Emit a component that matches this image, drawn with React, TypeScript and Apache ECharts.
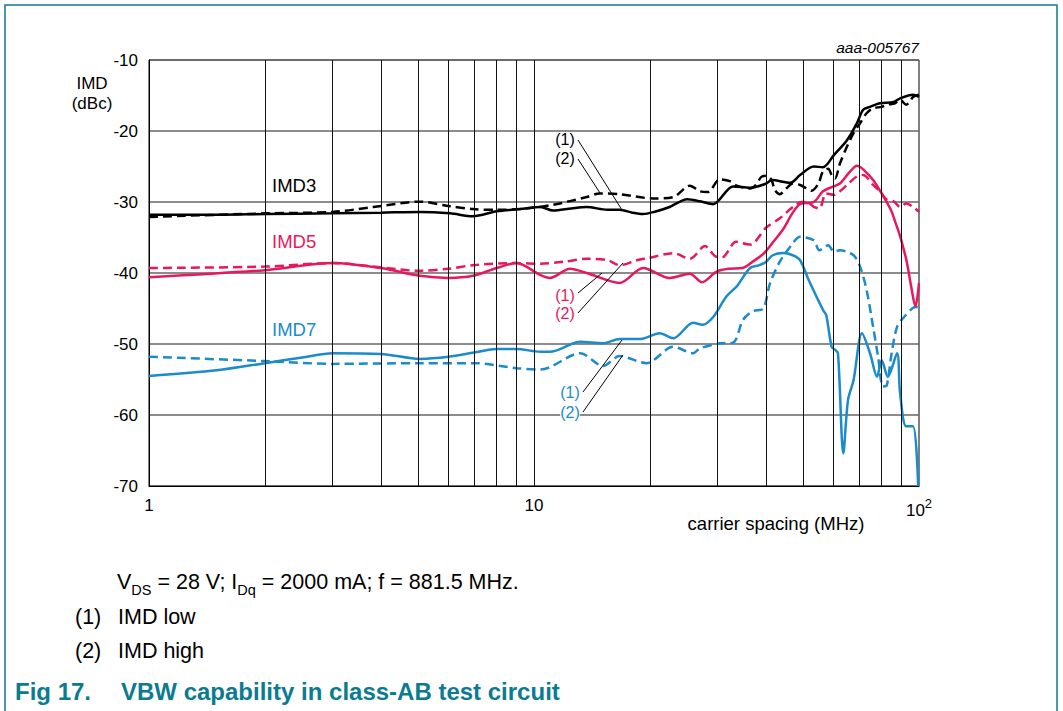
import React, { useEffect, useRef } from "react";
import * as echarts from "echarts";

// ---- data (carrier spacing MHz, IMD dBc) ----
const imd3Low: [number, number][] = [
  [1.0, -31.8], [1.5, -31.8], [2.0, -31.7], [3.0, -31.6], [4.0, -31.5], [5.06, -31.4], [6.05, -31.6],
  [6.94, -32.0], [8.0, -31.3], [9.2, -31.0], [10.4, -30.7], [11.2, -31.2], [12.5, -30.9], [13.7, -30.7],
  [15.5, -31.1], [16.7, -31.1], [18.0, -31.5], [19.2, -31.7], [20.5, -31.4], [22.5, -30.7], [25.0, -29.6],
  [27.0, -29.9], [29.2, -30.3], [32.9, -27.8], [36.4, -28.0], [40.1, -27.4], [41.4, -26.9], [46.3, -27.3],
  [49.1, -26.2], [53.3, -25.0], [56.3, -25.1], [60.1, -23.4], [65.0, -21.3], [69.0, -18.9], [71.6, -17.0],
  [74.6, -16.6], [79.2, -16.1], [85.9, -15.9], [89.3, -15.4], [96.5, -14.9], [100, -15.2],
];
const imd3High: [number, number][] = [
  [1.0, -32.1], [2.02, -31.6], [3.0, -31.4], [3.83, -30.7], [5.06, -29.95], [6.05, -30.6], [6.94, -31.0],
  [8.0, -31.1], [9.2, -31.0], [11.2, -30.4], [13.7, -29.3], [14.8, -28.8], [16.7, -28.9], [20.4, -29.5],
  [23.0, -29.3], [25.4, -27.7], [27.0, -28.5], [28.3, -28.6], [30.4, -26.8], [32.4, -27.1], [33.6, -27.7],
  [36.4, -28.1], [37.7, -27.6], [38.9, -26.5], [40.1, -26.3], [41.4, -26.9], [42.2, -28.3], [43.5, -28.9],
  [45.2, -28.1], [47.0, -27.4], [49.1, -27.6], [51.1, -28.1], [52.6, -28.4], [54.8, -27.4], [56.3, -25.7],
  [58.1, -25.3], [59.3, -26.2], [60.5, -26.7], [62.3, -24.6], [65.0, -22.2], [67.6, -20.3], [70.3, -18.9],
  [73.1, -17.5], [76.0, -16.8], [80.0, -16.6], [82.5, -16.3], [86.6, -16.1], [89.3, -15.6], [92.6, -16.3],
  [94.6, -15.9], [96.5, -15.2], [100, -14.9],
];
const imd5Low: [number, number][] = [
  [1.0, -40.6], [2.0, -39.6], [3.0, -38.6], [4.0, -39.3], [5.06, -40.4], [6.0, -40.7], [6.94, -40.4],
  [8.0, -39.3], [9.0, -38.6], [10.4, -40.3], [11.0, -40.7], [12.4, -39.4], [13.7, -40.0], [16.7, -41.4],
  [19.2, -39.3], [22.5, -40.7], [25.4, -40.1], [27.3, -41.3], [29.8, -39.8], [32.0, -39.4], [34.8, -39.3],
  [37.0, -38.4], [39.6, -37.2], [42.0, -35.5], [44.4, -33.8], [47.0, -31.5], [49.1, -30.3], [53.3, -30.0],
  [56.3, -28.5], [60.0, -27.8], [62.3, -27.4], [66.0, -25.8], [69.0, -24.9], [71.6, -25.4], [76.0, -26.9],
  [80.0, -28.8], [84.5, -31.1], [87.0, -33.0], [89.3, -34.8], [91.0, -36.4], [93.0, -38.5], [95.5, -42.0],
  [97.9, -44.7], [99.0, -43.5], [100, -41.4],
];
const imd5High: [number, number][] = [
  [1.0, -39.3], [2.0, -39.1], [3.0, -38.6], [4.0, -39.2], [5.06, -39.7], [6.0, -39.4], [6.94, -38.9],
  [9.0, -38.6], [10.4, -38.7], [12.0, -38.4], [13.7, -38.0], [15.5, -38.2], [16.7, -38.9], [18.5, -38.2],
  [19.8, -37.9], [23.0, -37.2], [25.4, -38.0], [27.8, -36.2], [29.5, -37.6], [30.8, -37.8], [33.5, -35.6],
  [36.4, -36.0], [40.1, -33.6], [43.5, -32.3], [47.0, -30.7], [49.5, -30.0], [51.1, -30.0], [53.3, -30.7],
  [55.1, -30.9], [57.4, -28.8], [60.1, -29.0], [62.3, -28.5], [65.0, -27.6], [69.0, -26.4], [71.6, -26.2],
  [76.0, -27.6], [79.2, -28.5], [82.5, -29.7], [85.9, -29.9], [89.3, -30.7], [92.6, -30.2], [96.5, -30.7],
  [100, -31.4],
];
const imd7Low: [number, number][] = [
  [1.0, -54.5], [1.5, -53.7], [2.0, -52.7], [2.5, -51.9], [3.0, -51.3], [4.0, -51.4], [5.06, -52.1],
  [6.0, -51.8], [7.0, -51.2], [8.0, -50.7], [9.0, -50.7], [10.4, -51.1], [11.0, -51.1], [13.2, -49.7],
  [15.1, -49.9], [16.7, -49.3], [18.9, -49.3], [21.2, -48.5], [23.0, -49.2], [25.9, -47.0], [27.4, -47.3],
  [29.2, -46.2], [31.6, -43.3], [33.6, -41.9], [36.4, -39.3], [38.5, -38.9], [40.1, -38.4], [41.7, -37.5],
  [44.4, -37.2], [47.0, -37.5], [49.1, -38.2], [51.7, -41.0], [56.3, -45.2], [57.4, -45.9], [59.3, -50.4],
  [60.5, -50.8], [61.6, -51.3], [63.6, -65.4], [65.4, -57.9], [67.6, -55.1], [71.1, -48.5], [74.6, -51.3],
  [77.8, -54.6], [80.0, -52.3], [83.0, -54.6], [87.7, -51.3], [89.3, -56.9], [92.6, -61.6], [96.5, -61.6],
  [99.5, -70],
];
const imd7High: [number, number][] = [
  [1.0, -51.8], [2.0, -52.4], [3.0, -52.8], [5.06, -52.7], [7.0, -52.7], [9.0, -53.4], [10.4, -53.6],
  [13.2, -51.3], [15.1, -53.1], [16.7, -51.7], [19.6, -52.7], [23.0, -50.4], [25.9, -51.3], [27.0, -50.6],
  [30.4, -49.9], [32.9, -49.8], [34.9, -46.6], [37.0, -45.4], [39.4, -45.0], [41.0, -41.5], [43.5, -38.4],
  [46.3, -36.3], [49.1, -34.9], [53.3, -35.4], [55.1, -36.8], [58.1, -36.1], [60.1, -37.0], [62.3, -36.8],
  [67.6, -37.5], [70.3, -39.1], [73.1, -42.4], [76.0, -47.6], [78.3, -51.8], [80.6, -56.0], [82.5, -55.8],
  [84.9, -51.3], [87.7, -47.6], [91.5, -46.2], [97.9, -44.8], [100, -44.8],
];
const minorGridX = [2, 3, 4, 5, 6, 7, 8, 9, 10, 20, 30, 40, 50, 60, 70, 80, 90];
const yMin = -70;
const yMax = -10;
const yStep = 10;

const BLACK = "#000000";
const RED = "#e8185d";
const BLUE = "#1a8bcb";
const TEAL = "#0b7b8f";
const FONT = '"Liberation Sans", Arial, sans-serif';

export default function App() {
  const ref = useRef<HTMLDivElement>(null);
  useEffect(() => {
    if (!ref.current) return;
    const chart = echarts.init(ref.current, undefined, { renderer: "svg" });
    const mk = (name: string, data: [number, number][], color: string, dashed: boolean) => ({
      type: "line",
      name,
      data,
      symbol: "none",
      showSymbol: false,
      smooth: 0.3,
      z: 3,
      lineStyle: { color, width: 2.5, type: dashed ? [9, 5] : "solid" },
    });
    const txt = (x: number, y: number, text: string, color: string, size = 16, align = "left", extra: any = {}) => ({
      type: "text",
      x,
      y,
      silent: true,
      z: 20,
      style: { text, fill: color, font: `${size}px ${FONT}`, textAlign: align, textVerticalAlign: "middle", ...extra },
    });
    const ln = (x1: number, y1: number, x2: number, y2: number) => ({
      type: "line",
      silent: true,
      shape: { x1, y1, x2, y2 },
      style: { stroke: "#000", lineWidth: 1 },
      z: 10,
    });
    chart.setOption({
      animation: false,
      backgroundColor: "#ffffff",
      grid: { left: 149, top: 60, width: 770, height: 426, show: true, borderColor: "#000", borderWidth: 1, backgroundColor: "transparent" },
      xAxis: {
        type: "log",
        logBase: 10,
        min: 1,
        max: 100,
        axisLine: { show: true, lineStyle: { color: "#000", width: 1 } },
        axisTick: { show: false },
        splitLine: { show: false },
        axisLabel: {
          color: "#000",
          fontSize: 17,
          fontFamily: FONT,
          margin: 11,
          formatter: (v: number) => (v >= 100 ? "{b|10}{s|2}" : String(Math.round(v))),
          rich: {
            b: { fontSize: 17, fontFamily: FONT, color: "#000", lineHeight: 22, verticalAlign: "bottom" },
            s: { fontSize: 13, fontFamily: FONT, color: "#000", lineHeight: 13, verticalAlign: "top" },
          },
        },
      },
      yAxis: {
        type: "value",
        min: yMin,
        max: yMax,
        interval: yStep,
        axisLine: { show: true, lineStyle: { color: "#000", width: 1 } },
        axisTick: { show: false },
        splitLine: { show: true, lineStyle: { color: "#666", width: 1.6 } },
        axisLabel: { color: "#000", fontSize: 17, fontFamily: FONT, margin: 11 },
      },
      series: [
        {
          type: "line",
          data: [],
          z: 1,
          silent: true,
          markLine: {
            silent: true,
            symbol: ["none", "none"],
            label: { show: false },
            lineStyle: { type: "solid", color: "#111", width: 1 },
            data: minorGridX.map((v) => ({ xAxis: v })),
          },
        },
        mk("IMD7 (2)", imd7High, BLUE, true),
        mk("IMD7 (1)", imd7Low, BLUE, false),
        mk("IMD5 (2)", imd5High, RED, true),
        mk("IMD5 (1)", imd5Low, RED, false),
        mk("IMD3 (2)", imd3High, BLACK, true),
        mk("IMD3 (1)", imd3Low, BLACK, false),
      ],
      graphic: [
        { type: "rect", silent: true, shape: { x: 5, y: 5, width: 1052, height: 720 }, style: { fill: "none", stroke: TEAL, lineWidth: 1.5 } },
        txt(919, 47, "aaa-005767", "#000", 15.5, "right", { font: `italic 15.5px ${FONT}` }),
        txt(92, 83, "IMD", "#000", 17, "center"),
        txt(92, 103, "(dBc)", "#000", 17, "center"),
        txt(776, 523, "carrier spacing (MHz)", "#000", 18.5, "center"),
        txt(272, 185, "IMD3", BLACK, 18.5),
        txt(272, 241, "IMD5", RED, 18.5),
        txt(272, 329, "IMD7", BLUE, 18.5),
        txt(565, 139, "(1)", BLACK, 16, "center"),
        txt(565, 158, "(2)", BLACK, 16, "center"),
        ln(578, 140, 622, 210),
        ln(578, 159, 600, 193),
        txt(565, 295, "(1)", RED, 16, "center"),
        txt(565, 313, "(2)", RED, 16, "center"),
        ln(578, 293, 602, 273),
        ln(578, 313, 623, 263),
        txt(570, 392, "(1)", BLUE, 16, "center"),
        txt(570, 412, "(2)", BLUE, 16, "center", { backgroundColor: "#fff" }),
        ln(583, 392, 622, 340),
        ln(583, 412, 623, 355),
        {
          type: "text",
          x: 117,
          y: 584,
          silent: true,
          style: {
            text: "{n|V}{s|DS}{n| = 28 V; I}{s|Dq}{n| = 2000 mA; f = 881.5 MHz.}",
            textVerticalAlign: "middle",
            rich: {
              n: { fontSize: 21.5, fontFamily: FONT, fill: "#000", color: "#000", lineHeight: 27, verticalAlign: "top" },
              s: { fontSize: 14.5, fontFamily: FONT, fill: "#000", color: "#000", lineHeight: 14, verticalAlign: "bottom" },
            },
          },
        },
        txt(75, 617, "(1)", "#000", 21.5),
        txt(118, 617, "IMD low", "#000", 21.5),
        txt(75, 651, "(2)", "#000", 21.5),
        txt(118, 651, "IMD high", "#000", 21.5),
        {
          type: "text",
          x: 15,
          y: 691,
          silent: true,
          style: { text: "Fig 17.", fill: TEAL, font: `bold 24px ${FONT}`, textAlign: "left", textVerticalAlign: "middle" },
        },
        {
          type: "text",
          x: 121,
          y: 691,
          silent: true,
          style: { text: "VBW capability in class-AB test circuit", fill: TEAL, font: `bold 24px ${FONT}`, textAlign: "left", textVerticalAlign: "middle" },
        },
      ],
    });
    return () => chart.dispose();
  }, []);
  return (
    <div
      ref={ref}
      style={{ position: "fixed", left: 0, top: 0, width: 1063, height: 711, background: "#fff" }}
    />
  );
}
